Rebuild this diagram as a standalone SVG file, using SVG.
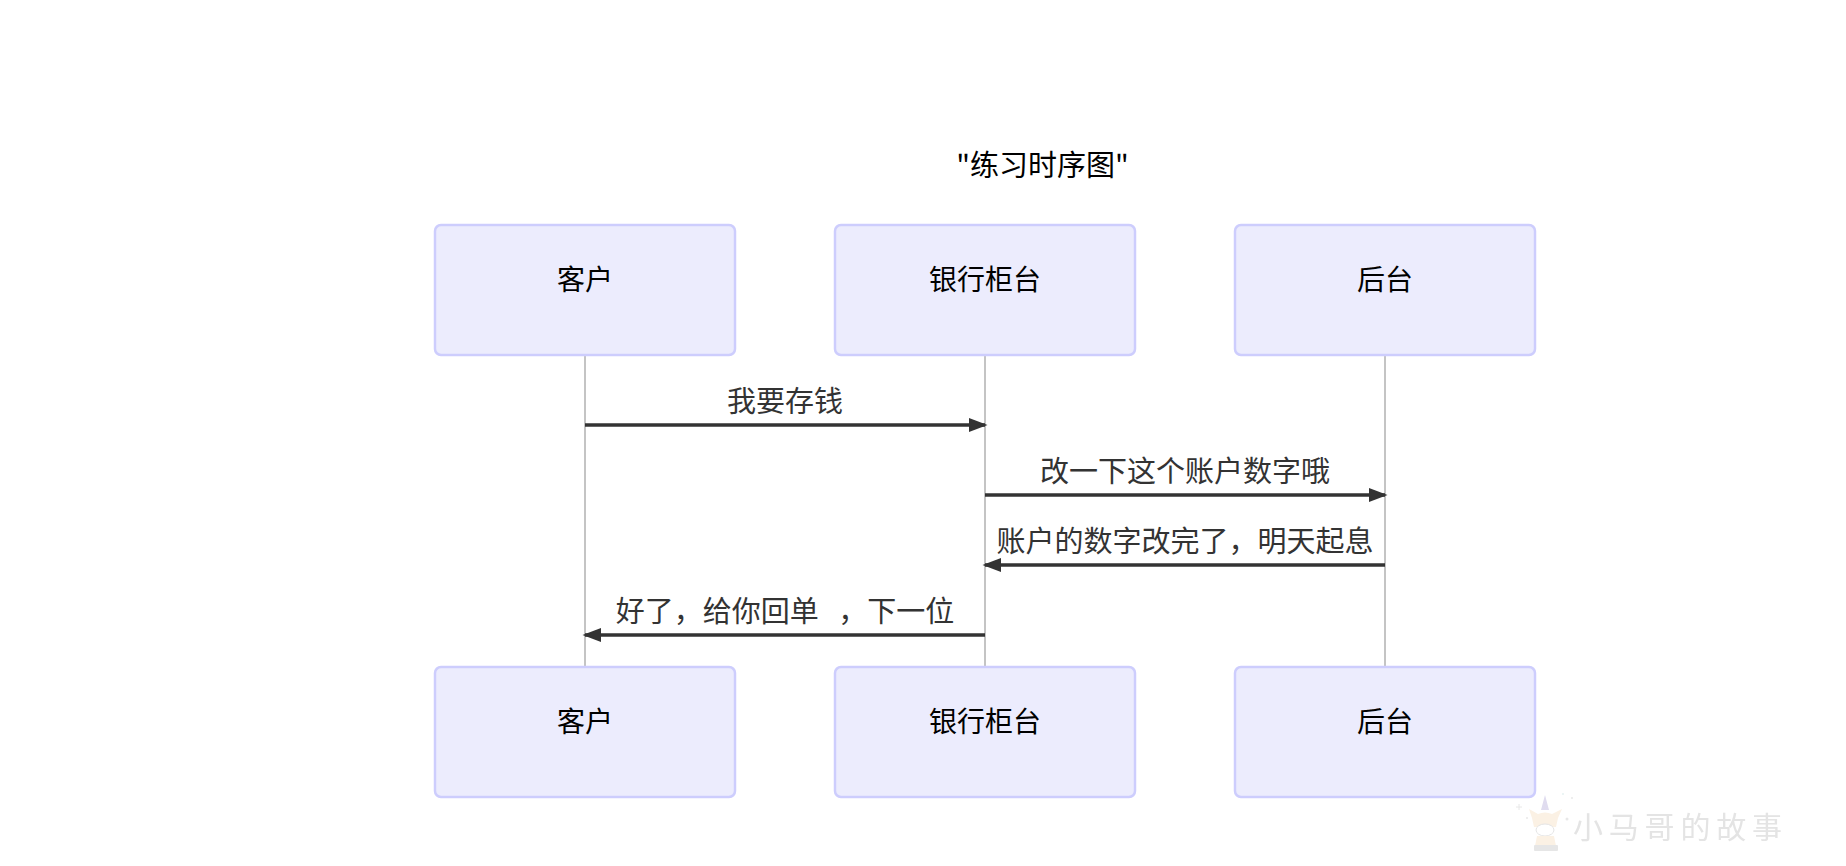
<svg xmlns="http://www.w3.org/2000/svg" width="1846" height="866" viewBox="0 0 1846 866">
<style>
text{font-family:"Noto Sans CJK SC","Liberation Sans",sans-serif;text-anchor:middle}
.box{fill:#ececfd;stroke:#cdcdfd;stroke-width:2.5}
.actor{font-size:28px;fill:#000}
.title{font-size:29px;fill:#000}
.msg{font-size:29px;fill:#333}
.life{stroke:#c4c4c4;stroke-width:2;fill:none}
.arrow{stroke:#333;stroke-width:3.5;fill:none}
.wm{font-size:30px;fill:#e4e4e4;letter-spacing:5.8px;text-anchor:start;font-family:"Noto Sans CJK SC",sans-serif}
</style>
<defs>
<marker id="head" markerUnits="userSpaceOnUse" markerWidth="20" markerHeight="14" refX="16" refY="7" orient="auto-start-reverse" viewBox="0 0 20 14"><path d="M0 0L18.5 7L0 14Z" fill="#333"/></marker>
<filter id="soft" x="-5%" y="-5%" width="110%" height="110%"><feGaussianBlur stdDeviation="0.5"/></filter>
</defs>
<rect width="1846" height="866" fill="#fff"/>
<text id="title" x="1042.5" y="176" class="title">"练习时序图"</text>
<g id="connectors">
<line class="life" x1="585" y1="355" x2="585" y2="667"/>
<line class="life" x1="985" y1="355" x2="985" y2="667"/>
<line class="life" x1="1385" y1="355" x2="1385" y2="667"/>
<line class="arrow" x1="585" y1="425" x2="985" y2="425" marker-end="url(#head)"/>
<line class="arrow" x1="985" y1="495" x2="1385" y2="495" marker-end="url(#head)"/>
<line class="arrow" x1="1385" y1="565" x2="985" y2="565" marker-end="url(#head)"/>
<line class="arrow" x1="985" y1="635" x2="585" y2="635" marker-end="url(#head)"/>
<text class="msg" x="785" y="412">我要存钱</text>
<text class="msg" x="1185" y="482">改一下这个账户数字哦</text>
<text class="msg" x="1185" y="552">账户的数字改完了，明天起息</text>
<text class="msg" x="785" y="622" xml:space="preserve">好了，给你回单   ，下一位</text>
</g>
<g id="actor-top-1"><rect class="box" x="435" y="225" width="300" height="130" rx="6"/><text class="actor" x="585" y="290">客户</text></g>
<g id="actor-top-2"><rect class="box" x="835" y="225" width="300" height="130" rx="6"/><text class="actor" x="985" y="290">银行柜台</text></g>
<g id="actor-top-3"><rect class="box" x="1235" y="225" width="300" height="130" rx="6"/><text class="actor" x="1385" y="290">后台</text></g>
<g id="actor-bottom-1"><rect class="box" x="435" y="667" width="300" height="130" rx="6"/><text class="actor" x="585" y="732">客户</text></g>
<g id="actor-bottom-2"><rect class="box" x="835" y="667" width="300" height="130" rx="6"/><text class="actor" x="985" y="732">银行柜台</text></g>
<g id="actor-bottom-3"><rect class="box" x="1235" y="667" width="300" height="130" rx="6"/><text class="actor" x="1385" y="732">后台</text></g>
<g id="watermark" filter="url(#soft)">
<path d="M1545 795L1549 810H1541Z" fill="#e0dcef"/>
<path d="M1529 809L1538 814Q1545 811 1552 814L1562 809L1558 818L1556 827H1534L1532 818Z" fill="#fbf1e4"/>
<ellipse cx="1545" cy="830" rx="9" ry="6" fill="#fff" stroke="#e4e4e4" stroke-width="1"/>
<path d="M1537 836H1554L1556 846H1535Z" fill="#fbf1e4"/>
<rect x="1534" y="845" width="24" height="6" rx="1" fill="#e6e6e6"/>
<path d="M1519 804V810M1516 807H1522" stroke="#e8e8e8" fill="none"/>
<circle cx="1572" cy="798" r="1" fill="#e8e8e8"/>
<circle cx="1563" cy="794" r="1" fill="#e6f2f2"/>
<circle cx="1527" cy="818" r="1" fill="#e8e8e8"/>
<circle cx="1567" cy="819" r="1.5" fill="#e8e8e8"/>
<text class="wm" x="1573" y="838">小马哥的故事</text>
</g>
</svg>
